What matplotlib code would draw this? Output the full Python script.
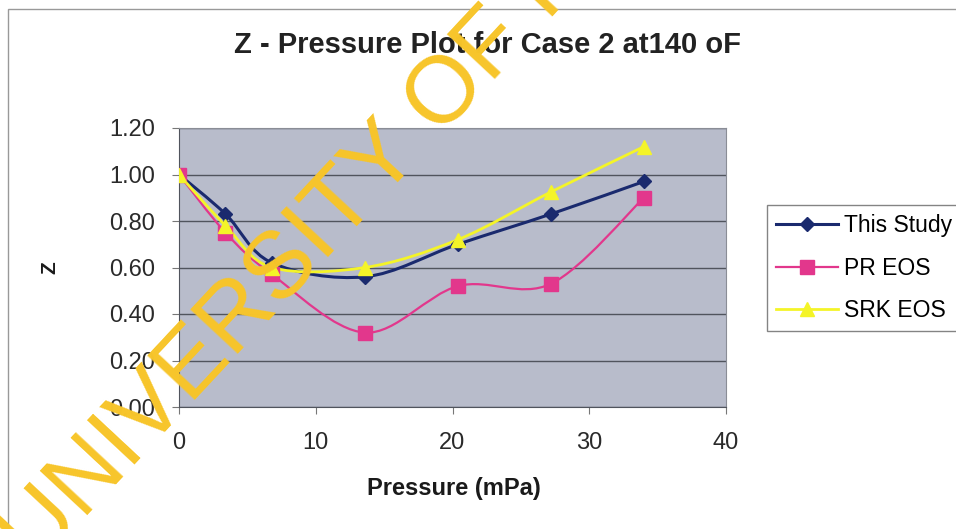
import numpy as np
import matplotlib
matplotlib.use("Agg")
import matplotlib.pyplot as plt
from matplotlib.path import Path
from matplotlib.patches import PathPatch, Rectangle
from matplotlib.lines import Line2D

plt.rcParams['font.family'] = ['Liberation Sans', 'DejaVu Sans']

pressure = [0, 3.4, 6.8, 13.6, 20.4, 27.2, 34.0]
this_study = [1.00, 0.83, 0.62, 0.56, 0.70, 0.83, 0.97]
pr_eos = [1.00, 0.75, 0.57, 0.32, 0.52, 0.53, 0.90]
srk_eos = [1.00, 0.78, 0.60, 0.60, 0.72, 0.925, 1.12]

series = [
    ("This Study", this_study, "#1a2a6e", "D", 7, 2.2),
    ("PR EOS", pr_eos, "#e2378c", "s", 10, 1.6),
    ("SRK EOS", srk_eos, "#f4f428", "^", 10, 2.0),
]


def smooth_path(x, y):
    x = np.asarray(x, float)
    y = np.asarray(y, float)
    verts = [(x[0], y[0])]
    codes = [Path.MOVETO]
    n = len(x)
    for i in range(n - 1):
        p0 = np.array([x[max(i - 1, 0)], y[max(i - 1, 0)]])
        p1 = np.array([x[i], y[i]])
        p2 = np.array([x[i + 1], y[i + 1]])
        p3 = np.array([x[min(i + 2, n - 1)], y[min(i + 2, n - 1)]])
        c1 = p1 + (p2 - p0) / 6.0
        c2 = p2 - (p3 - p1) / 6.0
        verts += [tuple(c1), tuple(c2), tuple(p2)]
        codes += [Path.CURVE4] * 3
    return Path(verts, codes)


fig = plt.figure(figsize=(9.56, 5.29), dpi=100)
fig.patch.set_facecolor("white")
fig.patches.append(Rectangle((8 / 956, -0.05), 1.1, 1 - 9 / 529 + 0.05, transform=fig.transFigure,
                             fill=False, edgecolor="#999999", linewidth=1.0))

ax = fig.add_axes([179 / 956, 1 - 407 / 529, (726 - 179) / 956, (407 - 128) / 529])
ax.set_facecolor("#b8bccb")
ax.set_xlim(0, 40)
ax.set_ylim(0, 1.2)
ax.set_xticks([0, 10, 20, 30, 40])
ax.set_yticks(np.arange(0, 1.21, 0.2))
ax.set_yticklabels([f"{v:.2f}" for v in np.arange(0, 1.21, 0.2)])
ax.yaxis.grid(True, color="#50545d", linewidth=1.0)
ax.set_axisbelow(True)
for s in ["top", "right"]:
    ax.spines[s].set_color("#8a8d96")
for s in ["left", "bottom"]:
    ax.spines[s].set_color("#50545d")
ax.tick_params(axis="both", labelsize=17, colors="#2a2a2a", length=5, color="#777777")
ax.tick_params(axis="x", pad=13)
ax.tick_params(axis="y", pad=12)

handles = []
for name, vals, col, mk, ms, lw in series:
    ax.add_patch(PathPatch(smooth_path(pressure, vals), facecolor="none", edgecolor=col,
                           linewidth=lw, zorder=3))
    ax.plot(pressure, vals, linestyle="none", marker=mk, color=col, markersize=ms, zorder=4)
    handles.append(Line2D([], [], color=col, marker=mk, markersize=ms, linewidth=lw, label=name))

fig.text(454 / 956, 1 - 488 / 529, "Pressure (mPa)", fontsize=17, fontweight="bold",
         ha="center", va="center", color="#1a1a1a")
fig.text(50 / 956, 1 - 268 / 529, "Z", fontsize=15, fontweight="bold", rotation=90,
         ha="center", va="center", color="#1a1a1a")
fig.text(487 / 956, 1 - 45 / 529, "Z - Pressure Plot for Case 2 at140 oF", fontsize=21,
         fontweight="bold", ha="center", va="center", color="#222222")

leg = fig.legend(handles=handles, loc="upper left", bbox_to_anchor=(767 / 956, 1 - 205 / 529),
                 frameon=True, fancybox=False, edgecolor="#666666", fontsize=16.5,
                 handlelength=2.7, labelspacing=0.85, borderpad=0.4, handletextpad=0.25,
                 borderaxespad=0)
leg.get_frame().set_linewidth(1.0)

fig.text(36 / 956, 1 - 570 / 529, "UNIVERSITY OF IBADAN", fontsize=68, color="#f7c52a",
         rotation=47, rotation_mode="anchor", ha="left", va="baseline", zorder=10)

fig.savefig("out.png", dpi=100)
